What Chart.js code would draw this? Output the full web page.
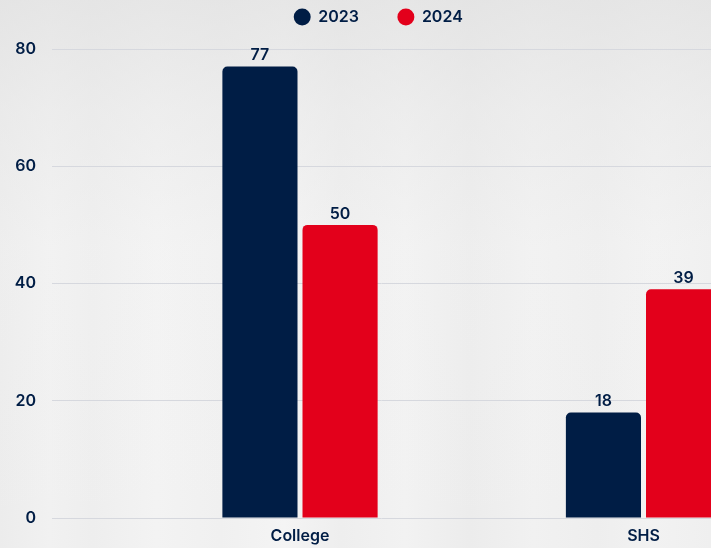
<!DOCTYPE html>
<html>
<head>
<meta charset="utf-8">
<script src="https://cdn.jsdelivr.net/npm/chart.js@4/dist/chart.umd.min.js"></script>
<style>
    html, body { margin: 0; padding: 0; }
    body {
        width: 711px; height: 548px; overflow: hidden;
        background-color: #efefef;
        background-image:
            linear-gradient(180deg, rgba(225,225,225,0.7) 0%, rgba(232,232,232,0.5) 20%, rgba(245,245,245,0.2) 45%, rgba(243,243,243,0) 100%),
            linear-gradient(90deg, #ececec 0%, #f1f1f1 7%, #eeeeee 13%, #f3f3f3 22%, #f0f0f0 31%, #f4f4f4 40%, #eeeeee 48%, #f2f2f2 57%, #ececec 66%, #f1f1f1 75%, #eeeeee 84%, #f2f2f2 92%, #efefef 100%);
    }
    .wrap { position: relative; width: 711px; height: 548px; }
</style>
</head>
<body>
<div class="wrap"><canvas id="chart"></canvas></div>
<script>
const categories = ['College', 'SHS'];
const years = ['2023', '2024'];
const values2023 = [77, 18];
const values2024 = [50, 39];
const yTicks = [0, 20, 40, 60, 80];

const navy = '#001d45';
const red = '#e3001b';
const fontFamily = 'Inter, "Open Sans", sans-serif';

// linear x so the crop of the original picture can be matched
const toPoints = vals => vals.map((v, i) => ({ x: i + 1, y: v }));

const valueLabels = {
    id: 'valueLabels',
    afterDatasetsDraw(chart) {
        const ctx = chart.ctx;
        ctx.save();
        ctx.font = '600 16px ' + fontFamily;
        ctx.fillStyle = navy;
        ctx.textAlign = 'center';
        ctx.textBaseline = 'bottom';
        chart.data.datasets.forEach((ds, di) => {
            chart.getDatasetMeta(di).data.forEach((bar, i) => {
                ctx.fillText(ds.data[i].y, bar.x, bar.y - 3);
            });
        });
        ctx.restore();
    }
};

// legend sits a bit higher and right of centre in the original
const legendShift = {
    id: 'legendShift',
    afterLayout(chart) {
        const lg = chart.legend;
        lg.top = -30;
        lg.left += 23;
        lg.right += 23;
    }
};

new Chart(document.getElementById('chart'), {
    type: 'bar',
    data: {
        datasets: [
            { label: years[0], data: toPoints(values2023), backgroundColor: navy },
            { label: years[1], data: toPoints(values2024), backgroundColor: red }
        ]
    },
    options: {
        responsive: true,
        maintainAspectRatio: false,
        animation: false,
        layout: { padding: { left: 0, right: 0, top: 0, bottom: 0 } },
        datasets: {
            bar: {
                categoryPercentage: 0.4665,
                barPercentage: 0.9375,
                borderRadius: 5,
                borderSkipped: 'start'
            }
        },
        scales: {
            x: {
                type: 'linear',
                offset: false,
                min: 0.278,
                max: 2.1965,
                grid: { display: false },
                border: { display: false },
                afterBuildTicks: scale => { scale.ticks = categories.map((c, i) => ({ value: i + 1 })); },
                afterFit: scale => { scale.height = 30; },
                ticks: {
                    color: navy,
                    font: { family: fontFamily, size: 16, weight: '600' },
                    padding: 1,
                    maxRotation: 0,
                    callback: v => categories[v - 1]
                }
            },
            y: {
                min: 0,
                max: 80,
                afterBuildTicks: scale => { scale.ticks = yTicks.map(v => ({ value: v })); },
                afterFit: scale => { scale.width = 52; },
                grid: { color: '#d6d8de', drawTicks: false, lineWidth: 1 },
                border: { display: false },
                ticks: {
                    color: navy,
                    font: { family: fontFamily, size: 16, weight: '600' },
                    padding: 16
                }
            }
        },
        plugins: {
            tooltip: { enabled: false },
            legend: {
                position: 'top',
                maxHeight: 49,
                labels: {
                    usePointStyle: true,
                    pointStyle: 'circle',
                    boxWidth: 16,
                    boxHeight: 12,
                    padding: 39,
                    color: navy,
                    font: { family: fontFamily, size: 16, weight: '600' }
                }
            }
        }
    },
    plugins: [valueLabels, legendShift]
});
</script>
</body>
</html>
